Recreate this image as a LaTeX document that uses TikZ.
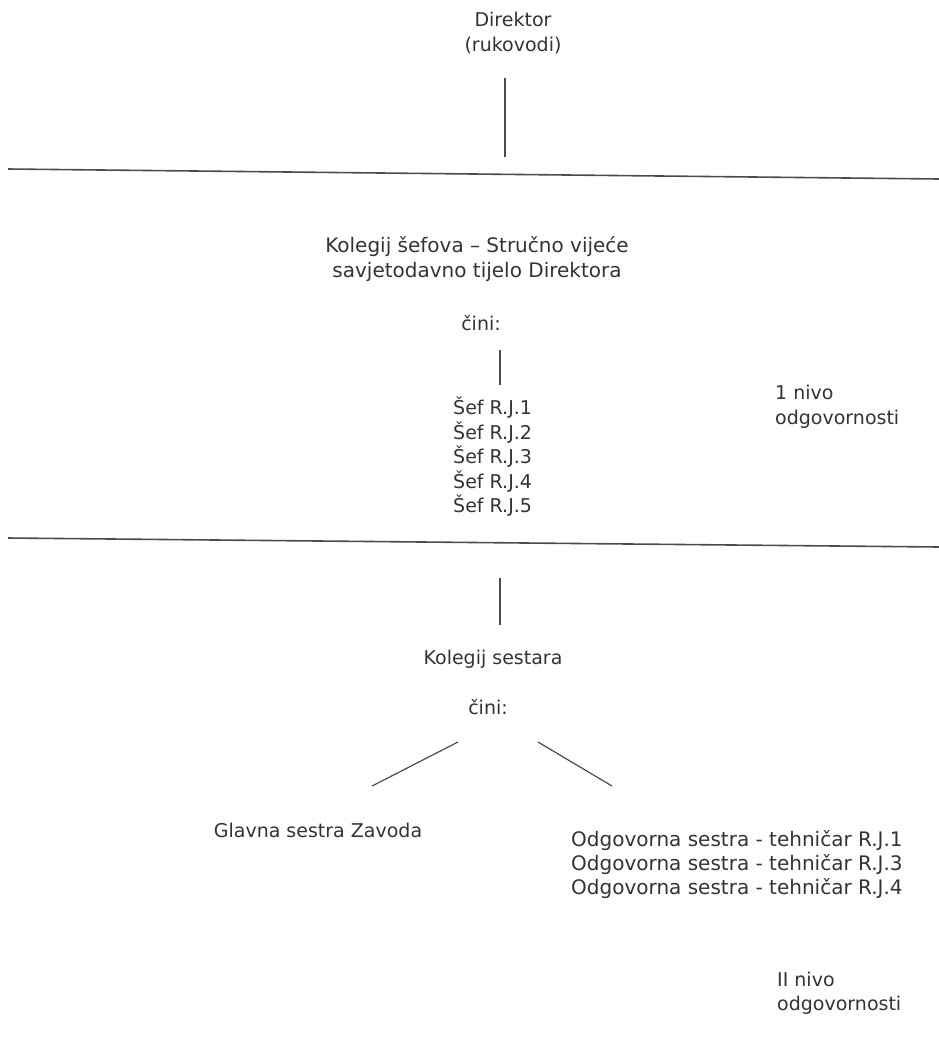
\documentclass[tikz,border=0pt]{standalone}
\usepackage{fontspec}
\setmainfont{DejaVu Sans}
\usetikzlibrary{positioning}
\tikzset{txt/.style={inner sep=0pt, text=black!80, align=center,
    font=\fontsize{19}{24.5}\selectfont},
  lefttxt/.style={txt, align=left},
  rule/.style={draw=black!70, line width=1.6pt},
  link/.style={draw=black!70, line width=1.2pt}}

\begin{document}
\begin{tikzpicture}[x=1pt, y=-1pt]
    \useasboundingbox (0,0) rectangle (939,1044);

    % vrh: direktor
    \node[txt] (dir) at (513,33) {Direktor\\(rukovodi)};
    \coordinate (dir-a) at (505,78);
    \coordinate (dir-b) at (505,157);
    \draw[link] (dir-a) -- (dir-b);

    \coordinate (rule-1-l) at (8,169);
    \coordinate (rule-1-r) at (939,179);
    \draw[rule] (rule-1-l) -- (rule-1-r);

    % I nivo
    \node[txt, font=\fontsize{20}{25}\selectfont] (kol-sef) at (477,259)
      {Kolegij šefova – Stručno vijeće\\savjetodavno tijelo Direktora};
    \node[txt] (cini-1) at (481,323) {čini:};
    \coordinate (sef-a) at (500,350);
    \coordinate (sef-b) at (500,385);
    \draw[link] (sef-a) -- (sef-b);

    \node[lefttxt, anchor=west] (sefovi) at (453,457)
      {Šef R.J.1\\Šef R.J.2\\Šef R.J.3\\Šef R.J.4\\Šef R.J.5};
    \node[lefttxt, anchor=west] (nivo-1) at (775,407)
      {1 nivo\\odgovornosti};

    \coordinate (rule-2-l) at (8,538);
    \coordinate (rule-2-r) at (939,547);
    \draw[rule] (rule-2-l) -- (rule-2-r);

    % II nivo
    \coordinate (ses-a) at (500,578);
    \coordinate (ses-b) at (500,625);
    \draw[link] (ses-a) -- (ses-b);
    \node[txt] (kol-ses) at (493,659) {Kolegij sestara};
    \node[txt] (cini-2) at (488,707) {čini:};

    \node[txt] (glavna) at (318,830) {Glavna sestra Zavoda};
    \node[lefttxt, anchor=west, font=\fontsize{20}{24}\selectfont] (odg) at (571,865)
      {Odgovorna sestra - tehničar R.J.1\\Odgovorna sestra - tehničar R.J.3\\Odgovorna sestra - tehničar R.J.4};
    \node[lefttxt, anchor=west] (nivo-2) at (777,993)
      {II nivo\\odgovornosti};

    \coordinate (gl-a) at (458,742);
    \coordinate (gl-b) at (372,786);
    \coordinate (od-a) at (538,742);
    \coordinate (od-b) at (612,786);
    \draw[link] (gl-a) -- (gl-b);
    \draw[link] (od-a) -- (od-b);
\end{tikzpicture}
\end{document}
